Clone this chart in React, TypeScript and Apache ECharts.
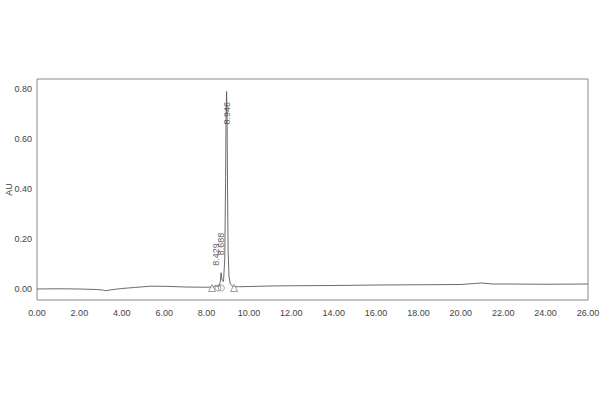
import React, { useEffect, useRef } from 'react';
import * as echarts from 'echarts';

// chromatogram trace (minutes, AU)
const traceTimes = [
  0, 1, 2, 2.8, 3.1, 3.25, 3.5, 4, 4.6, 5.3, 6, 7, 8, 8.3, 8.38, 8.429, 8.48, 8.6, 8.65, 8.688,
  8.73, 8.8, 8.86, 8.9, 8.92, 8.946, 8.97, 8.99, 9.02, 9.06, 9.12, 9.25, 9.5, 10, 11, 12, 14, 16,
  18, 20, 20.6, 21, 21.5, 22, 24, 26,
];
const traceAU = [
  0.0, 0.001, 0.0, -0.002, -0.004, -0.007, -0.003, 0.002, 0.006, 0.011, 0.011, 0.008, 0.007, 0.008,
  0.011, 0.015, 0.01, 0.012, 0.03, 0.065, 0.035, 0.03, 0.12, 0.45, 0.7, 0.79, 0.68, 0.4, 0.15,
  0.05, 0.02, 0.01, 0.009, 0.01, 0.012, 0.013, 0.014, 0.016, 0.017, 0.018, 0.022, 0.024, 0.02,
  0.02, 0.019, 0.02,
];

// integrated peaks
const peakTimes = [8.429, 8.688, 8.946];
const peakHeights = [0.015, 0.065, 0.79];

// integration start/end markers on the baseline
const triangleTimes = [8.26, 9.3];
const circleTimes = [8.54, 8.7];
const markerLevel = 0.004;

const yTicks = [0, 0.2, 0.4, 0.6, 0.8];

const App: React.FC = () => {
  const chartRef = useRef<HTMLDivElement | null>(null);

  useEffect(() => {
    document.body.style.margin = '0';
    if (!chartRef.current) return;
    const chart = echarts.init(chartRef.current, null, { renderer: 'svg' });

    const font = { fontFamily: 'Liberation Sans', fontSize: 9, color: '#444' };

    chart.setOption({
      animation: false,
      backgroundColor: '#fff',
      grid: {
        left: 37,
        right: 12,
        top: 79,
        bottom: 100,
        outerBoundsMode: 'none',
        containLabel: false,
        show: true,
        borderColor: '#8a8a8a',
        borderWidth: 1,
      },
      xAxis: {
        type: 'value',
        min: 0,
        max: 26,
        interval: 2,
        axisLine: { show: false },
        axisTick: { show: false },
        splitLine: { show: false },
        axisLabel: { ...font, margin: 8, formatter: (v: number) => v.toFixed(2) },
      },
      yAxis: {
        type: 'value',
        min: -0.044,
        max: 0.84,
        name: 'AU',
        nameLocation: 'middle',
        nameGap: 24,
        nameMoveOverlap: false,
        nameTextStyle: { ...font },
        axisLine: { show: false },
        axisTick: { show: false },
        splitLine: { show: false },
        axisLabel: { ...font, margin: 5, customValues: yTicks, formatter: (v: number) => v.toFixed(2) },
      },
      series: [
        {
          type: 'line',
          data: traceTimes.map((t, i) => [t, traceAU[i]]),
          showSymbol: false,
          lineStyle: { color: '#5a5a5a', width: 0.9 },
          z: 3,
        },
        {
          type: 'scatter',
          symbolSize: 1,
          itemStyle: { color: 'transparent' },
          z: 4,
          data: peakTimes.map((t, i) => ({
            value: [t, peakHeights[i]],
            label: {
              show: true,
              formatter: t.toFixed(3),
              rotate: 90,
              ...font,
              color: '#333',
              position: i === 2 ? 'bottom' : 'top',
              distance: i === 2 ? 10 : i === 0 ? 17 : 15,
              align: i === 2 ? 'right' : 'left',
              verticalAlign: 'middle',
              offset: [i === 2 ? 0 : 2, 0],
            },
          })),
        },
        {
          type: 'scatter',
          symbol: 'triangle',
          symbolSize: 7,
          itemStyle: { color: '#fff', borderColor: '#666', borderWidth: 0.8 },
          data: triangleTimes.map((t) => [t, markerLevel]),
          z: 5,
        },
        {
          type: 'scatter',
          symbol: 'circle',
          symbolSize: 6,
          itemStyle: { color: 'transparent', borderColor: '#666', borderWidth: 0.8 },
          data: circleTimes.map((t) => [t, markerLevel]),
          z: 5,
        },
      ],
    });

    return () => {
      chart.dispose();
    };
  }, []);

  return <div ref={chartRef} style={{ width: '600px', height: '400px' }}></div>;
};

export default App;
